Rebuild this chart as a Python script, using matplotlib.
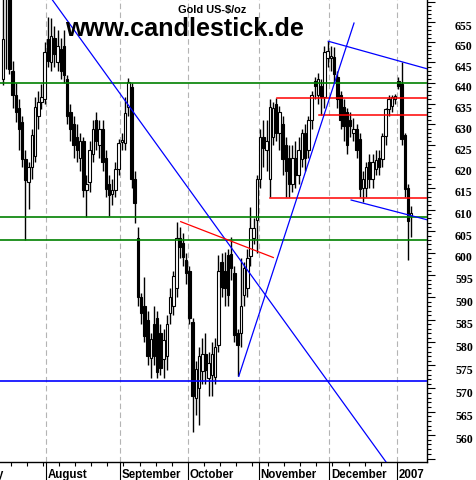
import numpy as np
import pandas as pd
import matplotlib
matplotlib.use('Agg')
import matplotlib.pyplot as plt
from matplotlib.ticker import FixedLocator, FuncFormatter, NullFormatter
from matplotlib.transforms import blended_transform_factory, ScaledTranslation

plt.rcParams['font.family'] = ['Liberation Sans', 'DejaVu Sans']
plt.rcParams['font.weight'] = 'bold'

# ---------------- data ----------------
dates = pd.bdate_range('2006-07-12', '2007-01-05')

opens = [641.0, 662.0, 666.0, 643.0, 637.0, 634.0, 630.6, 621.8, 616.3, 619.8,
         622.5, 632.0, 635.4, 636.1, 650.8, 645.0, 651.0, 645.0, 648.3, 649.0,
         641.0, 633.0, 630.0, 627.0, 622.0, 626.0, 614.5, 616.3, 623.0, 631.0,
         625.0, 629.0, 622.0, 616.0, 613.5, 614.5, 619.5, 625.8, 625.6, 634.3,
         638.9, 617.0, 603.4, 590.0, 588.0, 585.0, 576.7, 584.0, 585.5, 582.0,
         576.4, 577.0, 586.5, 588.0, 592.0, 603.4, 602.3, 598.5, 596.0, 584.5,
         568.0, 570.0, 573.8, 577.5, 572.2, 573.0, 572.5, 579.5, 598.0, 596.0,
         599.5, 599.8, 595.5, 582.0, 582.0, 590.5, 592.0, 599.3, 603.5, 607.5,
         617.0, 627.0, 624.0, 617.0, 627.0, 635.0, 628.0, 630.0, 625.0, 622.0,
         616.0, 622.0, 618.0, 621.8, 628.0, 624.0, 631.0, 640.5, 637.0, 639.3,
         636.7, 646.0, 646.0, 646.4, 641.5, 637.0, 634.3, 633.0, 631.0, 628.0,
         629.0, 626.5, 615.0, 615.0, 621.0, 617.0, 619.5, 622.0, 621.8, 627.2,
         633.7, 634.4, 636.2, 640.5, 639.8, 627.5, 615.0, 608.5]
highs = [662.0, 672.0, 672.0, 645.3, 640.0, 636.0, 632.0, 624.0, 621.0, 629.0,
         636.5, 638.0, 639.8, 650.0, 656.2, 656.0, 654.0, 653.0, 651.0, 653.0,
         642.0, 635.0, 632.0, 630.0, 628.0, 627.0, 618.0, 626.0, 631.0, 633.0,
         631.0, 631.0, 624.0, 618.0, 617.0, 621.0, 626.5, 628.0, 636.5, 641.2,
         640.0, 619.0, 606.0, 591.0, 594.7, 587.0, 582.0, 588.0, 587.0, 584.0,
         583.0, 586.0, 592.0, 596.0, 607.2, 606.0, 604.5, 600.0, 597.0, 585.5,
         576.0, 579.0, 581.0, 582.0, 578.0, 580.0, 581.0, 599.6, 600.0, 600.3,
         601.0, 603.6, 597.0, 583.0, 599.0, 598.0, 601.0, 610.6, 608.0, 618.0,
         629.0, 631.0, 631.0, 636.0, 635.5, 636.4, 634.5, 632.0, 627.0, 625.0,
         625.0, 626.0, 627.0, 629.0, 630.0, 632.0, 638.0, 641.5, 642.3, 641.0,
         649.0, 650.2, 649.0, 648.8, 643.0, 638.0, 636.1, 634.0, 633.0, 631.5,
         630.0, 628.0, 619.0, 621.0, 623.0, 623.0, 624.0, 624.0, 628.0, 634.0,
         637.0, 637.0, 637.4, 641.5, 645.2, 628.0, 616.0, 610.8]
lows = [639.5, 643.4, 642.2, 634.0, 630.6, 624.0, 620.0, 603.0, 610.2, 617.0,
        621.0, 629.0, 633.7, 635.0, 644.0, 643.0, 644.0, 643.0, 641.0, 640.0,
        630.0, 626.0, 622.0, 621.0, 619.0, 613.0, 608.3, 614.0, 621.0, 624.0,
        622.0, 619.0, 613.0, 608.4, 611.0, 613.0, 618.0, 624.0, 624.0, 632.0,
        615.0, 607.0, 588.0, 584.0, 580.0, 575.0, 572.3, 575.0, 572.3, 573.0,
        572.3, 574.0, 584.0, 586.0, 590.0, 599.0, 597.0, 593.0, 584.0, 560.6,
        564.2, 562.1, 571.0, 571.0, 568.4, 568.4, 571.0, 578.0, 590.0, 588.0,
        588.0, 594.0, 580.0, 572.6, 579.0, 588.0, 590.0, 597.0, 602.0, 600.0,
        615.0, 620.0, 619.0, 612.8, 625.0, 626.0, 624.0, 618.0, 613.0, 613.0,
        614.0, 615.0, 616.0, 620.0, 619.0, 622.0, 629.0, 636.0, 635.0, 632.3,
        634.0, 644.0, 643.0, 640.0, 634.0, 629.0, 626.0, 623.0, 627.0, 626.0,
        622.0, 613.0, 611.8, 613.0, 615.0, 615.0, 618.0, 618.0, 620.0, 625.0,
        632.0, 633.0, 635.0, 638.5, 625.0, 613.0, 598.4, 603.6]
closes = [650.8, 668.0, 643.4, 637.0, 633.0, 629.0, 621.8, 616.8, 619.8, 627.6,
          634.3, 635.5, 636.6, 647.6, 645.4, 651.5, 647.0, 649.0, 643.0, 642.0,
          632.0, 629.0, 625.0, 624.0, 626.0, 614.5, 616.0, 624.0, 629.0, 626.0,
          629.0, 621.0, 614.8, 613.4, 614.5, 619.4, 625.5, 626.4, 632.7, 640.3,
          617.1, 611.5, 590.0, 586.6, 581.5, 577.0, 580.8, 577.0, 573.6, 574.5,
          580.5, 584.0, 590.0, 594.8, 603.4, 601.5, 599.1, 595.5, 585.5, 568.4,
          574.2, 577.0, 577.5, 574.0, 575.5, 577.5, 579.0, 596.0, 592.4, 592.0,
          590.5, 596.6, 581.7, 579.5, 588.0, 596.6, 599.0, 605.8, 605.8, 617.2,
          627.0, 624.5, 626.0, 634.3, 634.0, 628.0, 633.0, 621.8, 619.0, 616.0,
          622.0, 618.0, 624.0, 627.9, 622.0, 631.0, 637.0, 639.3, 641.0, 636.7,
          647.6, 647.8, 646.6, 642.2, 636.1, 631.0, 629.6, 625.0, 629.6, 629.0,
          624.0, 614.8, 617.0, 620.0, 617.0, 621.0, 621.5, 620.0, 627.2, 633.7,
          636.1, 636.6, 636.8, 639.3, 626.5, 614.8, 607.4, 609.3]

# support / resistance levels
green_levels = [640.0, 608.2, 603.0]
blue_levels = [571.5]
red_levels = [636.4, 632.2, 612.6]
red_level_start = [85.35, 98.4, 83.1]          # day index where the red levels begin

# trend lines: (start day index, start price, end day index, end price)
blue_trends = [(15.18, 660.7, 119.16, 554.3),
               (73.35, 572.6, 109.2, 654.7),
               (101.2, 650.2, 132.1, 643.4),
               (108.3, 612.2, 132.1, 607.6)]
red_trends = [(55.3, 607.2, 84.1, 599.0)]

month_names = ['July', 'August', 'September', 'October', 'November', 'December', '2007']
y_tick_values = list(range(555, 661, 5))

# ---------------- figure ----------------
W, H = 477, 481
fig = plt.figure(figsize=(W / 100, H / 100), dpi=100)
ax = fig.add_axes([0, 18 / H, 427 / W, 463 / H])
ax.set_yscale('log')
ax.set_ylim(554.3, 660.7)
ax.set_xlim(-0.9, 131.9)

idx = np.arange(len(dates))
o = np.array(opens); c = np.array(closes)
hi = np.array(highs); lo = np.array(lows)
up = c >= o

# month boundaries
month_start_idx = []
for k in range(1, len(dates)):
    if dates[k].month != dates[k - 1].month:
        month_start_idx.append(k)
bounds = [k - 0.5 for k in month_start_idx]
july_start = -len(pd.bdate_range('2006-07-03', '2006-07-11')) - 0.5

for b in bounds:
    ax.axvline(b, color='#b4b4b4', lw=0.8, ls=(0, (5, 3)), zorder=1)

# candles
ax.vlines(idx, lo, hi, color='black', lw=1.0, zorder=2)
ax.bar(idx, np.abs(c - o), bottom=np.minimum(o, c), width=0.78,
       color=np.where(up, 'white', 'black'), edgecolor='black', linewidth=0.8, zorder=3)

# horizontal levels
for v in green_levels:
    ax.axhline(v, color='#008000', lw=1.2, zorder=4)
for v in blue_levels:
    ax.axhline(v, color='#0000ff', lw=1.2, zorder=4)
for v, s in zip(red_levels, red_level_start):
    ax.plot([s, 140], [v, v], color='#ff0000', lw=1.1, zorder=4)

for x0, y0, x1, y1 in blue_trends:
    ax.plot([x0, x1], [y0, y1], color='#0000ff', lw=0.9, zorder=4)
for x0, y0, x1, y1 in red_trends:
    ax.plot([x0, x1], [y0, y1], color='#ff0000', lw=0.9, zorder=4)

# spines
for s in ['top', 'left']:
    ax.spines[s].set_visible(False)
ax.spines['right'].set_linewidth(1.0)
ax.spines['bottom'].set_linewidth(1.0)

# y axis (right)
ax.yaxis.tick_right()
ax.yaxis.set_major_locator(FixedLocator(y_tick_values))
ax.yaxis.set_minor_locator(FixedLocator([v for v in range(555, 661) if v % 5]))
ax.yaxis.set_major_formatter(FuncFormatter(lambda v, p: f'{int(round(v))}' if 558 < v < 657 else ''))
ax.yaxis.set_minor_formatter(NullFormatter())
ax.tick_params(axis='y', which='major', length=5.8, width=0.8, direction='out',
               pad=14.4, labelsize=8.6, labelfontfamily='Liberation Serif')
ax.tick_params(axis='y', which='minor', length=2.9, width=0.8, direction='out')
for lbl in ax.get_yticklabels():
    lbl.set_transform(lbl.get_transform() + ScaledTranslation(0, -2.0 / 72, fig.dpi_scale_trans))

# x axis
mondays = [k - 0.5 for k in range(len(dates)) if dates[k].weekday() == 0]
ax.xaxis.set_major_locator(FixedLocator(bounds))
ax.xaxis.set_minor_locator(FixedLocator(mondays))
ax.xaxis.set_major_formatter(NullFormatter())
ax.tick_params(axis='x', which='major', length=13.0, width=0.8, direction='out')
ax.tick_params(axis='x', which='minor', length=2.9, width=0.8, direction='out')

trans = blended_transform_factory(ax.transData, ax.transAxes)
for b, name in zip([july_start] + bounds, month_names):
    ax.text(b + 0.5, -15.5 / 463, name, transform=trans, ha='left', va='baseline',
            fontsize=8.3, fontweight='bold', clip_on=False)

# titles
fig.text(185 / W, 1 - 36 / H, 'www.candlestick.de', ha='center', va='baseline',
         fontsize=18.2, fontweight='bold', color='black', zorder=10)
fig.text(212 / W, 1 - 10 / H, 'Gold US-$/oz', ha='center', va='center',
         fontsize=7.9, fontweight='bold', color='black', zorder=10)

fig.savefig('out.png', dpi=100)
